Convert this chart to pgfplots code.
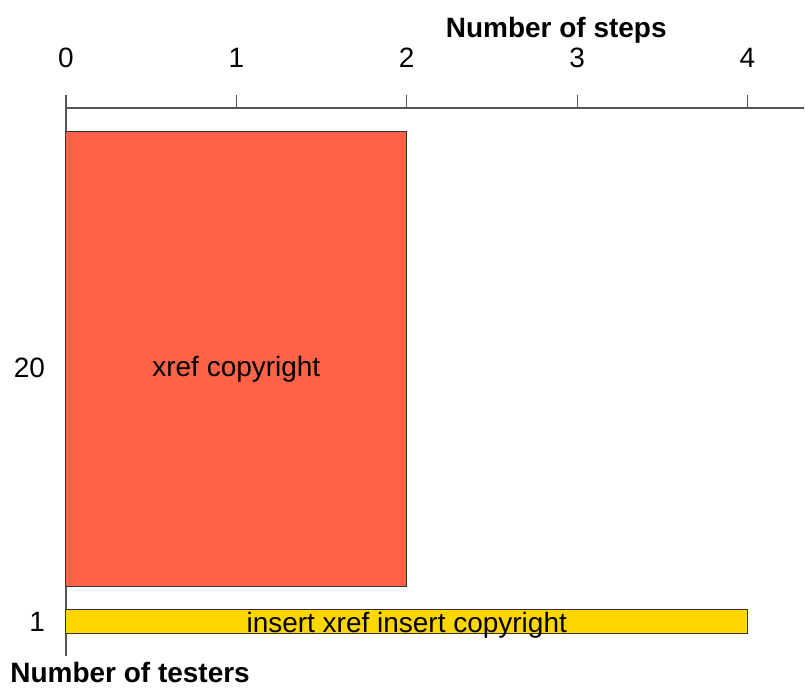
\documentclass[border=0pt]{standalone}
\usepackage{fontspec}
\setmainfont{Liberation Sans}
\usepackage{pgfplots}
\pgfplotsset{compat=1.18}
\definecolor{barred}{HTML}{FF6347}
\definecolor{baryellow}{HTML}{FFD700}
\definecolor{axisgray}{HTML}{555555}

\begin{document}
\begin{tikzpicture}
\begin{axis}[
  scale only axis,
  width=369.5pt, height=274.5pt,
  xmin=0, xmax=4.334, ymin=31, ymax=580,
  axis x line=top, axis y line=left,
  axis line style={-, draw=axisgray, line width=0.6pt},
  xtick={0,1,2,3,4},
  x tick style={draw=axisgray, line width=0.6pt},
  tick align=outside,
  major tick length=6.5pt,
  ytick={66,320}, yticklabels={1,20},
  y tick style={draw=none},
  tick label style={font=\fontsize{14}{16}\selectfont},
  /pgf/number format/assume math mode=true,
  xticklabel shift=10pt,
  yticklabel shift=0.5pt,
  xlabel={\bfseries Number of steps},
  xlabel style={at={(rel axis cs:0.664,1)}, anchor=base, yshift=35pt,
    font=\fontsize{14}{16}\selectfont},
  clip=false,
]
  % bars: x = steps, y span proportional to number of testers
  \addplot[fill=barred, draw=black!80, line width=0.5pt, mark=none]
    coordinates {(0,101)(2,101)(2,556)(0,556)} -- cycle;
  \addplot[fill=baryellow, draw=black!80, line width=0.5pt, mark=none]
    coordinates {(0,54)(4,54)(4,78)(0,78)} -- cycle;
  \node[font=\fontsize{14}{16}\selectfont] at (axis cs:1,318) {xref copyright};
  \node[font=\fontsize{14}{16}\selectfont] at (axis cs:2,62) {insert xref insert copyright};
  \node[font=\fontsize{14}{16}\selectfont\bfseries, anchor=base west, inner sep=0pt]
    at (axis cs:-0.3284,5) {Number of testers};
  \coordinate (bl) at (axis cs:-0.3871,0);
  \coordinate (tr) at (axis cs:4.334,688);
\end{axis}
\path (bl) rectangle (tr);
\end{tikzpicture}
\end{document}
